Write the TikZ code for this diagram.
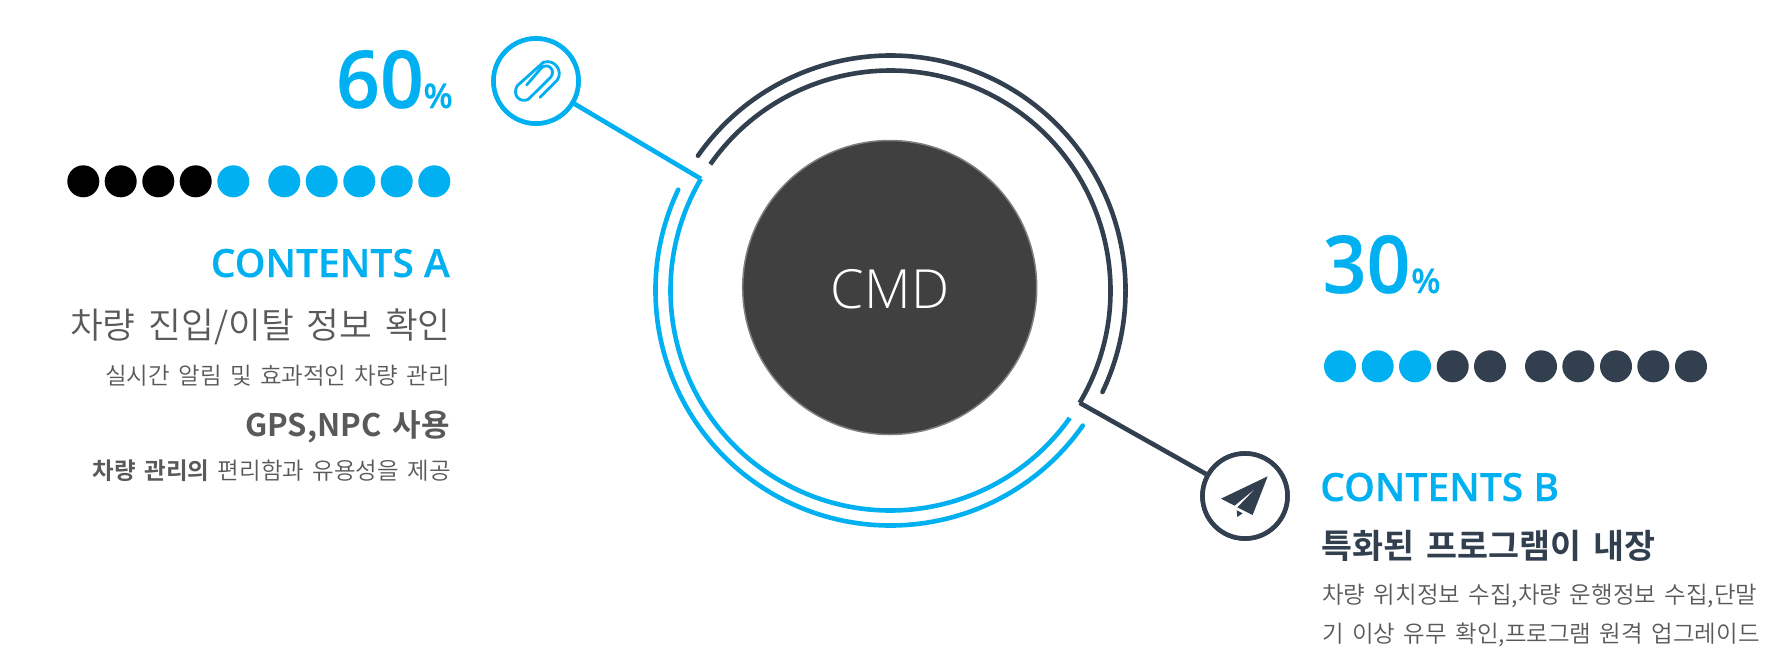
\documentclass[tikz,border=0pt]{standalone}
\usepackage{fontspec}
\setmainfont[WordSpace=1.6,BoldFont={Noto Sans CJK KR Bold}]{Noto Sans CJK KR DemiLight}
\newfontfamily\latinfont[FakeBold=0.25]{Open Sans Semibold}
\newfontfamily\digitfont[FakeStretch=0.96,FakeBold=0.25]{Open Sans Semibold}
\newfontfamily\lightfont{Open Sans Light}
\definecolor{cyanb}{HTML}{00B0F0}
\definecolor{navy}{HTML}{323F4F}
\definecolor{txtgray}{HTML}{595959}
\definecolor{disc}{HTML}{404040}
\tikzset{
  x=1pt,y=1pt,
  ringb/.style={draw=cyanb,line width=4.6pt,line cap=round,line join=miter},
  ringd/.style={draw=navy,line width=4.6pt,line cap=round,line join=miter},
  dotc/.style={circle,fill=cyanb,minimum size=32pt,inner sep=0pt},
  dotk/.style={circle,fill=black,minimum size=32pt,inner sep=0pt},
  dotn/.style={circle,fill=navy,minimum size=32pt,inner sep=0pt},
  iconb/.style={circle,draw=cyanb,line width=4.6pt,fill=white,minimum size=85pt,inner sep=0pt},
  icond/.style={circle,draw=navy,line width=4.6pt,fill=white,minimum size=85pt,inner sep=0pt},
  lefttxt/.style={anchor=base east,inner sep=0pt,text=txtgray},
  righttxt/.style={anchor=base west,inner sep=0pt,text=txtgray},
}
\begin{document}
\begin{tikzpicture}
\useasboundingbox (0,0) rectangle (1790,-662);
\coordinate (c) at (890.5,-290.5);
\path (c) ++(149.5:220) coordinate (ja);
\path (c) ++(-30.7:220) coordinate (jb);
\path (c) ++(154.6:235) coordinate (ob);
\path (c) ++(-25.6:235) coordinate (od);
\node[iconb] (icona) at (536,-81) {};
\node[icond] (iconb) at (1245,-496) {};
% rings
\draw[ringb] (ob) arc[start angle=154.6,end angle=324.9,radius=235];
\draw[ringd] (od) arc[start angle=-25.6,end angle=145,radius=235];
\draw[cyanb,line width=4.6pt,line join=miter,line cap=butt] (icona) -- (ja);
\draw[ringb,line cap=butt] (ja) arc[start angle=149.5,end angle=324.6,radius=220];
\draw[navy,line width=4.6pt,line join=miter,line cap=butt] (iconb) -- (jb);
\draw[ringd,line cap=butt] (jb) arc[start angle=-30.7,end angle=145,radius=220];
\node[iconb] at (icona) {};
\node[icond] at (iconb) {};
% disc
\node[circle,fill=disc,draw=gray,line width=1.5pt,minimum size=294pt,inner sep=0pt] (discn) at (889.7,-287.5) {};
\node[anchor=base,inner sep=0pt,text=white,font=\fontsize{54}{60}\selectfont\lightfont] (cmd) at (890,-308.3) {CMD};
% clip
\begin{scope}[shift={(460,-20)},x=0.3333pt,y=-0.3333pt]
\draw[cyanb,line width=2.8pt,line cap=round,line join=round]
 (240,232) -- (292,180) .. controls (310,155) and (285,115) .. (250,127)
 -- (172,197) .. controls (155,225) and (180,250) .. (205,238)
 -- (272,172) .. controls (290,150) and (262,125) .. (243,145) -- (200,195);
\end{scope}
% plane
\begin{scope}[shift={(1040,-360)},x=0.3333pt,y=-0.3333pt]
\fill[navy] (683,349) -- (543,416) -- (584,437) -- (650,382) -- (592,442) -- (638,465) -- cycle;
\fill[navy] (590,451) -- (592,471) -- (608,460) -- cycle;
\end{scope}
% dots A
\foreach \n/\x in {1/83.3,2/120.7,3/158.3,4/195.7}{\node[dotk] (a\n) at (\x,-181.3) {};}
\foreach \n/\x in {5/233.3,6/284.3,7/321.7,8/359.3,9/396.7,10/434.3}{\node[dotc] (a\n) at (\x,-181.3) {};}
% dots B
\foreach \n/\x in {1/1340,2/1377.7,3/1415}{\node[dotc] (b\n) at (\x,-366.3) {};}
\foreach \n/\x in {4/1452.7,5/1490,6/1541,7/1578.3,8/1616,9/1653.3,10/1691}{\node[dotn] (b\n) at (\x,-366.3) {};}
% text A
\node[lefttxt,text=cyanb,font=\fontsize{80}{90}\selectfont\digitfont] (p60) at (424,-108) {60};
\node[lefttxt,text=cyanb,font=\fontsize{34}{36}\selectfont\latinfont] (pct60) at (453,-108) {\%};
\node[lefttxt,text=cyanb,font=\fontsize{39}{44}\selectfont\latinfont] (ca) at (450,-277) {CONTENTS A};
\node[lefttxt,font=\fontsize{35.7}{40}\selectfont] (a1t) at (451,-338) {차량 진입/이탈 정보 확인};
\node[lefttxt,font=\fontsize{23.5}{28}\selectfont] (a2t) at (450,-384) {실시간 알림 및 효과적인 차량 관리};
\node[lefttxt,font=\fontsize{31}{36}\selectfont\bfseries] (a3t) at (450,-436) {GPS,NPC 사용};
\node[lefttxt,font=\fontsize{23.5}{28}\selectfont] (a4t) at (451,-479) {{\bfseries 차량 관리의} 편리함과 유용성을 제공};
% text B
\node[righttxt,text=cyanb,font=\fontsize{80}{90}\selectfont\digitfont] (p30) at (1322.5,-293) {30};
\node[righttxt,text=cyanb,font=\fontsize{34}{36}\selectfont\latinfont] (pct30) at (1411,-293) {\%};
\node[righttxt,text=cyanb,font=\fontsize{39}{44}\selectfont\latinfont] (cb) at (1320,-501) {CONTENTS B};
\node[righttxt,text=navy,font=\fontsize{33.7}{36}\selectfont\bfseries] (b1t) at (1321,-558) {특화된 프로그램이 내장};
\node[righttxt,font=\fontsize{23.5}{28}\selectfont] (b2t) at (1322,-603) {차량 위치정보 수집,차량 운행정보 수집,단말};
\node[righttxt,font=\fontsize{23.5}{28}\selectfont] (b3t) at (1322,-642) {기 이상 유무 확인,프로그램 원격 업그레이드};
\end{tikzpicture}
\end{document}
